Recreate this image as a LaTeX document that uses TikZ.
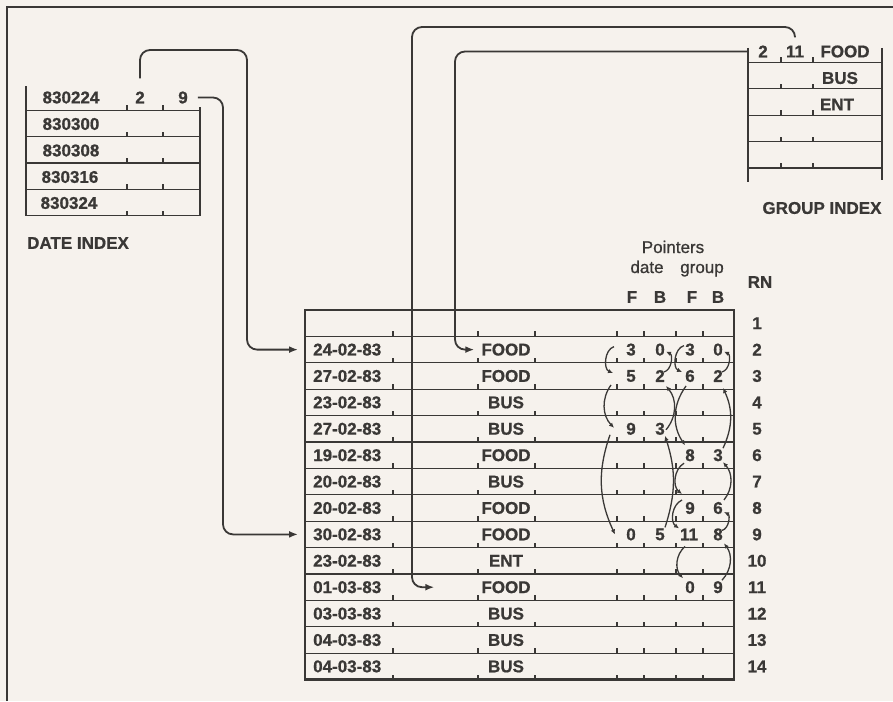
\documentclass[tikz,border=0pt]{standalone}
\usepackage{fontspec}
\setmainfont{Liberation Sans}[FakeBold=0.8]
\usetikzlibrary{arrows.meta}

\definecolor{paper}{RGB}{246,242,237}
\definecolor{ink}{RGB}{58,56,54}

\tikzset{
  cell/.style={inner sep=0pt, text=ink, font=\fontsize{17}{20}\selectfont\bfseries},
  head/.style={inner sep=0pt, text=ink, font=\fontsize{17}{20}\selectfont},
  rule/.style={draw=ink, line width=1.3pt},
  heavy rule/.style={draw=ink, line width=2.6pt},
  link/.style={draw=ink, line width=1.8pt, rounded corners=10pt, -{Latex[length=9pt,width=7pt]}},
  chain/.style={draw=ink, line width=1.3pt, -{Latex[length=5pt,width=4.5pt]}},
}

\begin{document}
\begin{tikzpicture}[x=1pt,y=-1pt]
\fill[paper] (0,0) rectangle (893,701);
\useasboundingbox (0,0) rectangle (893,701);
\draw[rule, line width=2pt] (7,701) -- (7,7) -- (893,7);

% date index
\draw[heavy rule] (26,86) -- (26,215.5);
\draw[rule] (200,107) -- (200,215.5);
\foreach \k in {1,...,5} {
  \draw[rule] (26,84+26.3*\k) -- (200,84+26.3*\k);
  \draw[rule] (127,84+26.3*\k) -- ++(0,-5);
  \draw[rule] (163,84+26.3*\k) -- ++(0,-5);
}
\node[cell] (dx1) at (71,97.5) {830224};
\node[cell] (dxF) at (140,97.5) {2};
\node[cell] (dxB) at (183,97.5) {9};
\node[cell] (dx2) at (71,124) {830300};
\node[cell] (dx3) at (71,150.5) {830308};
\node[cell] (dx4) at (70,177) {830316};
\node[cell] (dx5) at (69,203) {830324};
\node[cell, anchor=west] (dxname) at (27,243) {DATE INDEX};

% group index
\draw[heavy rule] (748,48) -- (748,182);
\draw[rule] (882,48) -- (882,180);
\foreach \k in {1,...,5} {
  \draw[rule] (748,36+26.4*\k) -- (882,36+26.4*\k);
  \draw[rule] (781,36+26.4*\k) -- ++(0,-5);
  \draw[rule] (813,36+26.4*\k) -- ++(0,-5);
}
\node[cell] (gxF) at (763,51.5) {2};
\node[cell] (gxB) at (795,51.5) {11};
\node[cell] (gx1) at (845,51.5) {FOOD};
\node[cell] (gx2) at (840,78) {BUS};
\node[cell] (gx3) at (837,104.5) {ENT};
\node[cell] (gxname) at (822,208) {GROUP INDEX};

% records
\foreach \k in {1,...,13}
  \draw[rule] (305,310+26.4*\k) -- (734,310+26.4*\k);
\foreach \k in {1,...,14}
  \foreach \x in {393,478,535,617,644,676,703}
    \draw[rule] (\x,310+26.4*\k) -- ++(0,-5);
\draw[heavy rule] (305,310) rectangle (734,679.6);

\node[head, anchor=base] (hptr) at (673,253) {Pointers};
\node[head, anchor=base] (hdate) at (647,273) {date};
\node[head, anchor=base] (hgrp) at (702,273) {group};
\node[cell] (hrn) at (760,282) {RN};
\node[cell] (hdf) at (632,297) {F};
\node[cell] (hdb) at (660,297) {B};
\node[cell] (hgf) at (692,297) {F};
\node[cell] (hgb) at (718,297) {B};

\foreach \r/\d/\g in {2/24-02-83/FOOD, 3/27-02-83/FOOD, 4/23-02-83/BUS,
    5/27-02-83/BUS, 6/19-02-83/FOOD, 7/20-02-83/BUS, 8/20-02-83/FOOD,
    9/30-02-83/FOOD, 10/23-02-83/ENT, 11/01-03-83/FOOD, 12/03-03-83/BUS,
    13/04-03-83/BUS, 14/04-03-83/BUS} {
  \node[cell, anchor=west] (date\r) at (313,296.8+26.4*\r) {\d};
  \node[cell] (grp\r) at (506,296.8+26.4*\r) {\g};
}
\foreach \r in {1,...,14}
  \node[cell] (rn\r) at (757,296.8+26.4*\r) {\r};

% pointer values
\node[cell] (df2) at (631,349.6) {3};
\node[cell] (db2) at (660,349.6) {0};
\node[cell] (gf2) at (690,349.6) {3};
\node[cell] (gb2) at (718,349.6) {0};
\node[cell] (df3) at (631,376) {5};
\node[cell] (db3) at (660,376) {2};
\node[cell] (gf3) at (690,376) {6};
\node[cell] (gb3) at (718,376) {2};
\node[cell] (df5) at (631,428.8) {9};
\node[cell] (db5) at (660,428.8) {3};
\node[cell] (gf6) at (690,455.2) {8};
\node[cell] (gb6) at (718,455.2) {3};
\node[cell] (gf8) at (690,508) {9};
\node[cell] (gb8) at (718,508) {6};
\node[cell] (df9) at (631,534.4) {0};
\node[cell] (db9) at (660,534.4) {5};
\node[cell] (gf9) at (689,534.4) {11};
\node[cell] (gb9) at (718,534.4) {8};
\node[cell] (gf11) at (690,587.2) {0};
\node[cell] (gb11) at (718,587.2) {9};

% index links
\draw[link] ([yshift=13pt]dxF.north) |- (247,50) |- ([xshift=-15pt]date2.west);
\draw[link] ([xshift=10pt]dxB.east) -| (223,300) |- ([xshift=-15pt]date9.west);
\draw[link] ([xshift=-10pt]gxF.west) -| (455,200) |- ([xshift=-7pt]grp2.west);
\draw[link] ([yshift=8pt]gxB.north) |- (412,27) |- ([xshift=-47pt]grp11.west);

% date chain
\draw[chain] ([xshift=-17pt,yshift=3pt]df2.center) to[bend right=70] ([xshift=-18pt,yshift=3pt]df3.center);
\draw[chain] ([xshift=-20pt,yshift=-9pt]df3.center) to[bend right=40] ([xshift=-17pt,yshift=1pt]df5.center);
\draw[chain] ([xshift=-21pt,yshift=-6pt]df5.center) to[bend right=22] ([xshift=-16pt]df9.center);
\draw[chain] ([xshift=4pt,yshift=4pt]db3.center) to[bend right=70] ([xshift=6pt,yshift=-2pt]db2.center);
\draw[chain] ([xshift=6pt,yshift=-1pt]db5.center) to[bend right=40] ([xshift=6pt,yshift=-10pt]db3.center);
\draw[chain] ([xshift=5pt,yshift=7pt]db9.center) to[bend right=18] ([xshift=5pt,yshift=-7pt]db5.center);

% group chain
\draw[chain] ([xshift=-6pt,yshift=4pt]gf2.center) to[bend right=70] ([xshift=-8pt,yshift=4pt]gf3.center);
\draw[chain] ([xshift=-4pt,yshift=-10pt]gf3.center) to[bend right=35] ([xshift=-5pt,yshift=10pt]gf6.center);
\draw[chain] ([xshift=-6pt,yshift=-8pt]gf6.center) to[bend right=55] ([xshift=-8pt,yshift=14pt]gf8.center);
\draw[chain] ([xshift=-8pt,yshift=8pt]gf8.center) to[bend right=60] ([xshift=-10pt,yshift=6pt]gf9.center);
\draw[chain] ([xshift=-4pt,yshift=-12pt]gf9.center) to[bend right=45] ([xshift=-7pt,yshift=9pt]gf11.center);
\draw[chain] ([xshift=4pt,yshift=4pt]gb3.center) to[bend right=70] ([xshift=6pt,yshift=-2pt]gb2.center);
\draw[chain] ([xshift=5pt,yshift=7pt]gb6.center) to[bend right=25] ([xshift=5pt,yshift=-12pt]gb3.center);
\draw[chain] ([xshift=6pt,yshift=8pt]gb8.center) to[bend right=40] ([xshift=5pt,yshift=-7pt]gb6.center);
\draw[chain] ([xshift=4pt,yshift=4pt]gb9.center) to[bend right=70] ([xshift=6pt,yshift=-4pt]gb8.center);
\draw[chain] ([xshift=4pt,yshift=7pt]gb11.center) to[bend right=40] ([xshift=6pt,yshift=-9pt]gb9.center);
\end{tikzpicture}
\end{document}
